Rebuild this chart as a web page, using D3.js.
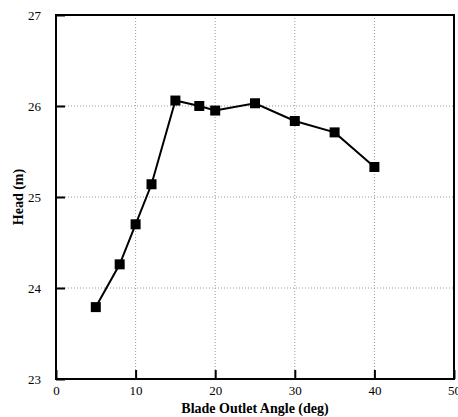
<!DOCTYPE html>
<html><head><meta charset="utf-8">
<script src="https://cdn.jsdelivr.net/npm/d3@7"></script>
<style>body{margin:0;background:#fff}</style>
</head><body>
<script>
const angles = [5, 8, 10, 12, 15, 18, 20, 25, 30, 35, 40];
const heads = [23.79, 24.26, 24.70, 25.14, 26.06, 26.00, 25.95, 26.03, 25.835, 25.71, 25.33];
const xTicks = [0, 10, 20, 30, 40, 50];
const yTicks = [23, 24, 25, 26, 27];
const xTitle = "Blade Outlet Angle (deg)";
const yTitle = "Head (m)";

const W = 458, H = 417;
const m = {l: 56, t: 15, r: 4, b: 38};
const svg = d3.select("body").append("svg").attr("width", W).attr("height", H);
const x = d3.scaleLinear().domain([0, 50]).range([m.l, W - m.r]);
const y = d3.scaleLinear().domain([23, 27]).range([H - m.b, m.t]);
const font = "'Liberation Serif', 'Times New Roman', serif";

// grid
const g = svg.append("g");
g.selectAll("line.gx").data(xTicks.filter(d => d > 0 && d < 50)).enter().append("line")
  .attr("x1", d => x(d)).attr("x2", d => x(d)).attr("y1", y(23)).attr("y2", y(27))
  .attr("stroke", "#999").attr("stroke-width", 1).attr("stroke-dasharray", "1,2");
g.selectAll("line.gy").data(yTicks.filter(d => d > 23 && d < 27)).enter().append("line")
  .attr("y1", d => y(d)).attr("y2", d => y(d)).attr("x1", x(0)).attr("x2", x(50))
  .attr("stroke", "#999").attr("stroke-width", 1).attr("stroke-dasharray", "1,2");

// axes (inward ticks)
const xAxis = svg.append("g").attr("transform", `translate(0,${y(23)})`)
  .call(d3.axisBottom(x).tickValues(xTicks).tickSize(-9).tickPadding(12).tickFormat(d3.format("d")));
const yAxis = svg.append("g").attr("transform", `translate(${x(0)},0)`)
  .call(d3.axisLeft(y).tickValues(yTicks).tickSize(-9).tickPadding(15).tickFormat(d3.format("d")));
[xAxis, yAxis].forEach(a => {
  a.attr("font-family", font);
  a.select(".domain").remove();
  a.selectAll(".tick line").attr("stroke", "#000").attr("stroke-width", 2);
  a.selectAll(".tick text").attr("font-family", font).attr("font-size", 13).attr("fill", "#000");
});
xAxis.selectAll(".tick text").attr("dy", "0.3em");

// frame
svg.append("rect").attr("x", x(0)).attr("y", y(27)).attr("width", x(50) - x(0)).attr("height", y(23) - y(27))
  .attr("fill", "none").attr("stroke", "#000").attr("stroke-width", 2);

// line
svg.append("path").datum(angles.map((a, i) => [a, heads[i]]))
  .attr("d", d3.line().x(d => x(d[0])).y(d => y(d[1])))
  .attr("fill", "none").attr("stroke", "#000").attr("stroke-width", 2);
const s = 10;
svg.selectAll("rect.pt").data(angles).enter().append("rect")
  .attr("x", (d) => x(d) - s / 2).attr("y", (d, i) => y(heads[i]) - s / 2)
  .attr("width", s).attr("height", s).attr("fill", "#000");

// titles
svg.append("text").attr("x", (x(0) + x(50)) / 2).attr("y", 413).attr("text-anchor", "middle")
  .attr("font-family", font).attr("font-weight", "bold").attr("font-size", 14).text(xTitle);
svg.append("text").attr("transform", `translate(23,${(y(23) + y(27)) / 2}) rotate(-90)`).attr("text-anchor", "middle")
  .attr("font-family", font).attr("font-weight", "bold").attr("font-size", 14).text(yTitle);
</script>
</body></html>
